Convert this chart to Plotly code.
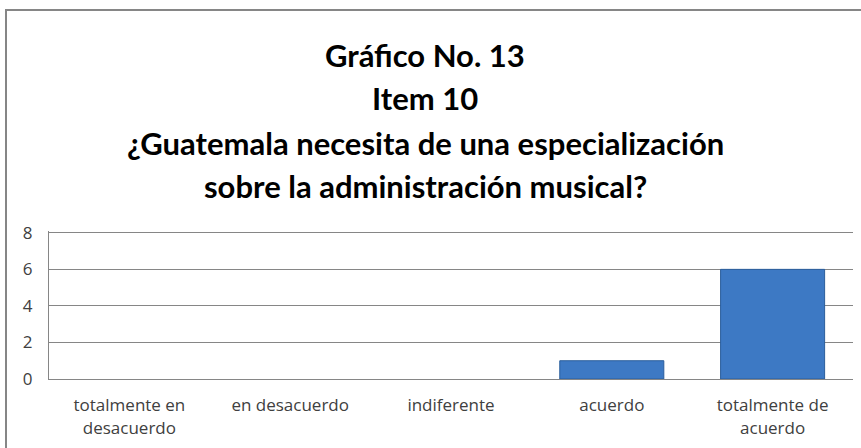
import plotly.graph_objects as go

categories = ["totalmente en<br>desacuerdo", "en desacuerdo", "indiferente", "acuerdo", "totalmente de<br>acuerdo"]
values = [0, 0, 0, 1, 6]
y_ticks = [0, 2, 4, 6, 8]
title_lines = [
    "Gráfico No. 13",
    "Item 10",
    "¿Guatemala necesita de una especialización",
    "sobre la administración musical?",
]

W, H = 861, 448
L, R, T, B = 49, 8, 231, 69
ph = H - T - B

def ypaper(py):
    return (H - B - py) / ph

def xpaper(px):
    return (px - L) / (W - L - R)

fig = go.Figure()
fig.add_trace(go.Bar(
    x=categories, y=values,
    marker=dict(color="#3D79C4",
                line=dict(color="#2B5E9C", width=[0 if v == 0 else 1 for v in values])),
    hoverinfo="x+y",
))

title_font = dict(family="Lato, 'Open Sans', sans-serif", size=31, color="#000000")
centers = [55, 98, 143, 186]
for txt, cy in zip(title_lines, centers):
    fig.add_annotation(text="<b>" + txt + "</b>", xref="paper", yref="paper",
                       x=xpaper(425), y=ypaper(cy),
                       xanchor="center", yanchor="middle", showarrow=False,
                       font=title_font)

fig.add_shape(type="rect", xref="paper", yref="paper",
              x0=xpaper(6), x1=xpaper(900), y0=ypaper(470), y1=ypaper(10),
              line=dict(color="#868686", width=2), fillcolor="rgba(0,0,0,0)", layer="below")

tick_font = dict(family="'Open Sans', sans-serif", size=17, color="#404040")
fig.update_layout(
    width=W, height=H,
    margin=dict(l=L, r=R, t=T, b=B),
    paper_bgcolor="white", plot_bgcolor="white",
    showlegend=False,
    bargap=0.353,
    font=tick_font,
)
fig.update_xaxes(
    showgrid=False, showline=True, linecolor="#868686", linewidth=1,
    ticks="", tickfont=tick_font, ticklabelstandoff=11,
    range=[-0.5, 4.5],
)
fig.update_yaxes(
    range=[0, 8.1], tickvals=y_ticks, showgrid=True, gridcolor="#868686", gridwidth=1,
    showline=True, linecolor="#868686", linewidth=1, zeroline=False,
    ticks="", tickfont=tick_font, ticklabelstandoff=12,
)
fig.write_html("out.html")
